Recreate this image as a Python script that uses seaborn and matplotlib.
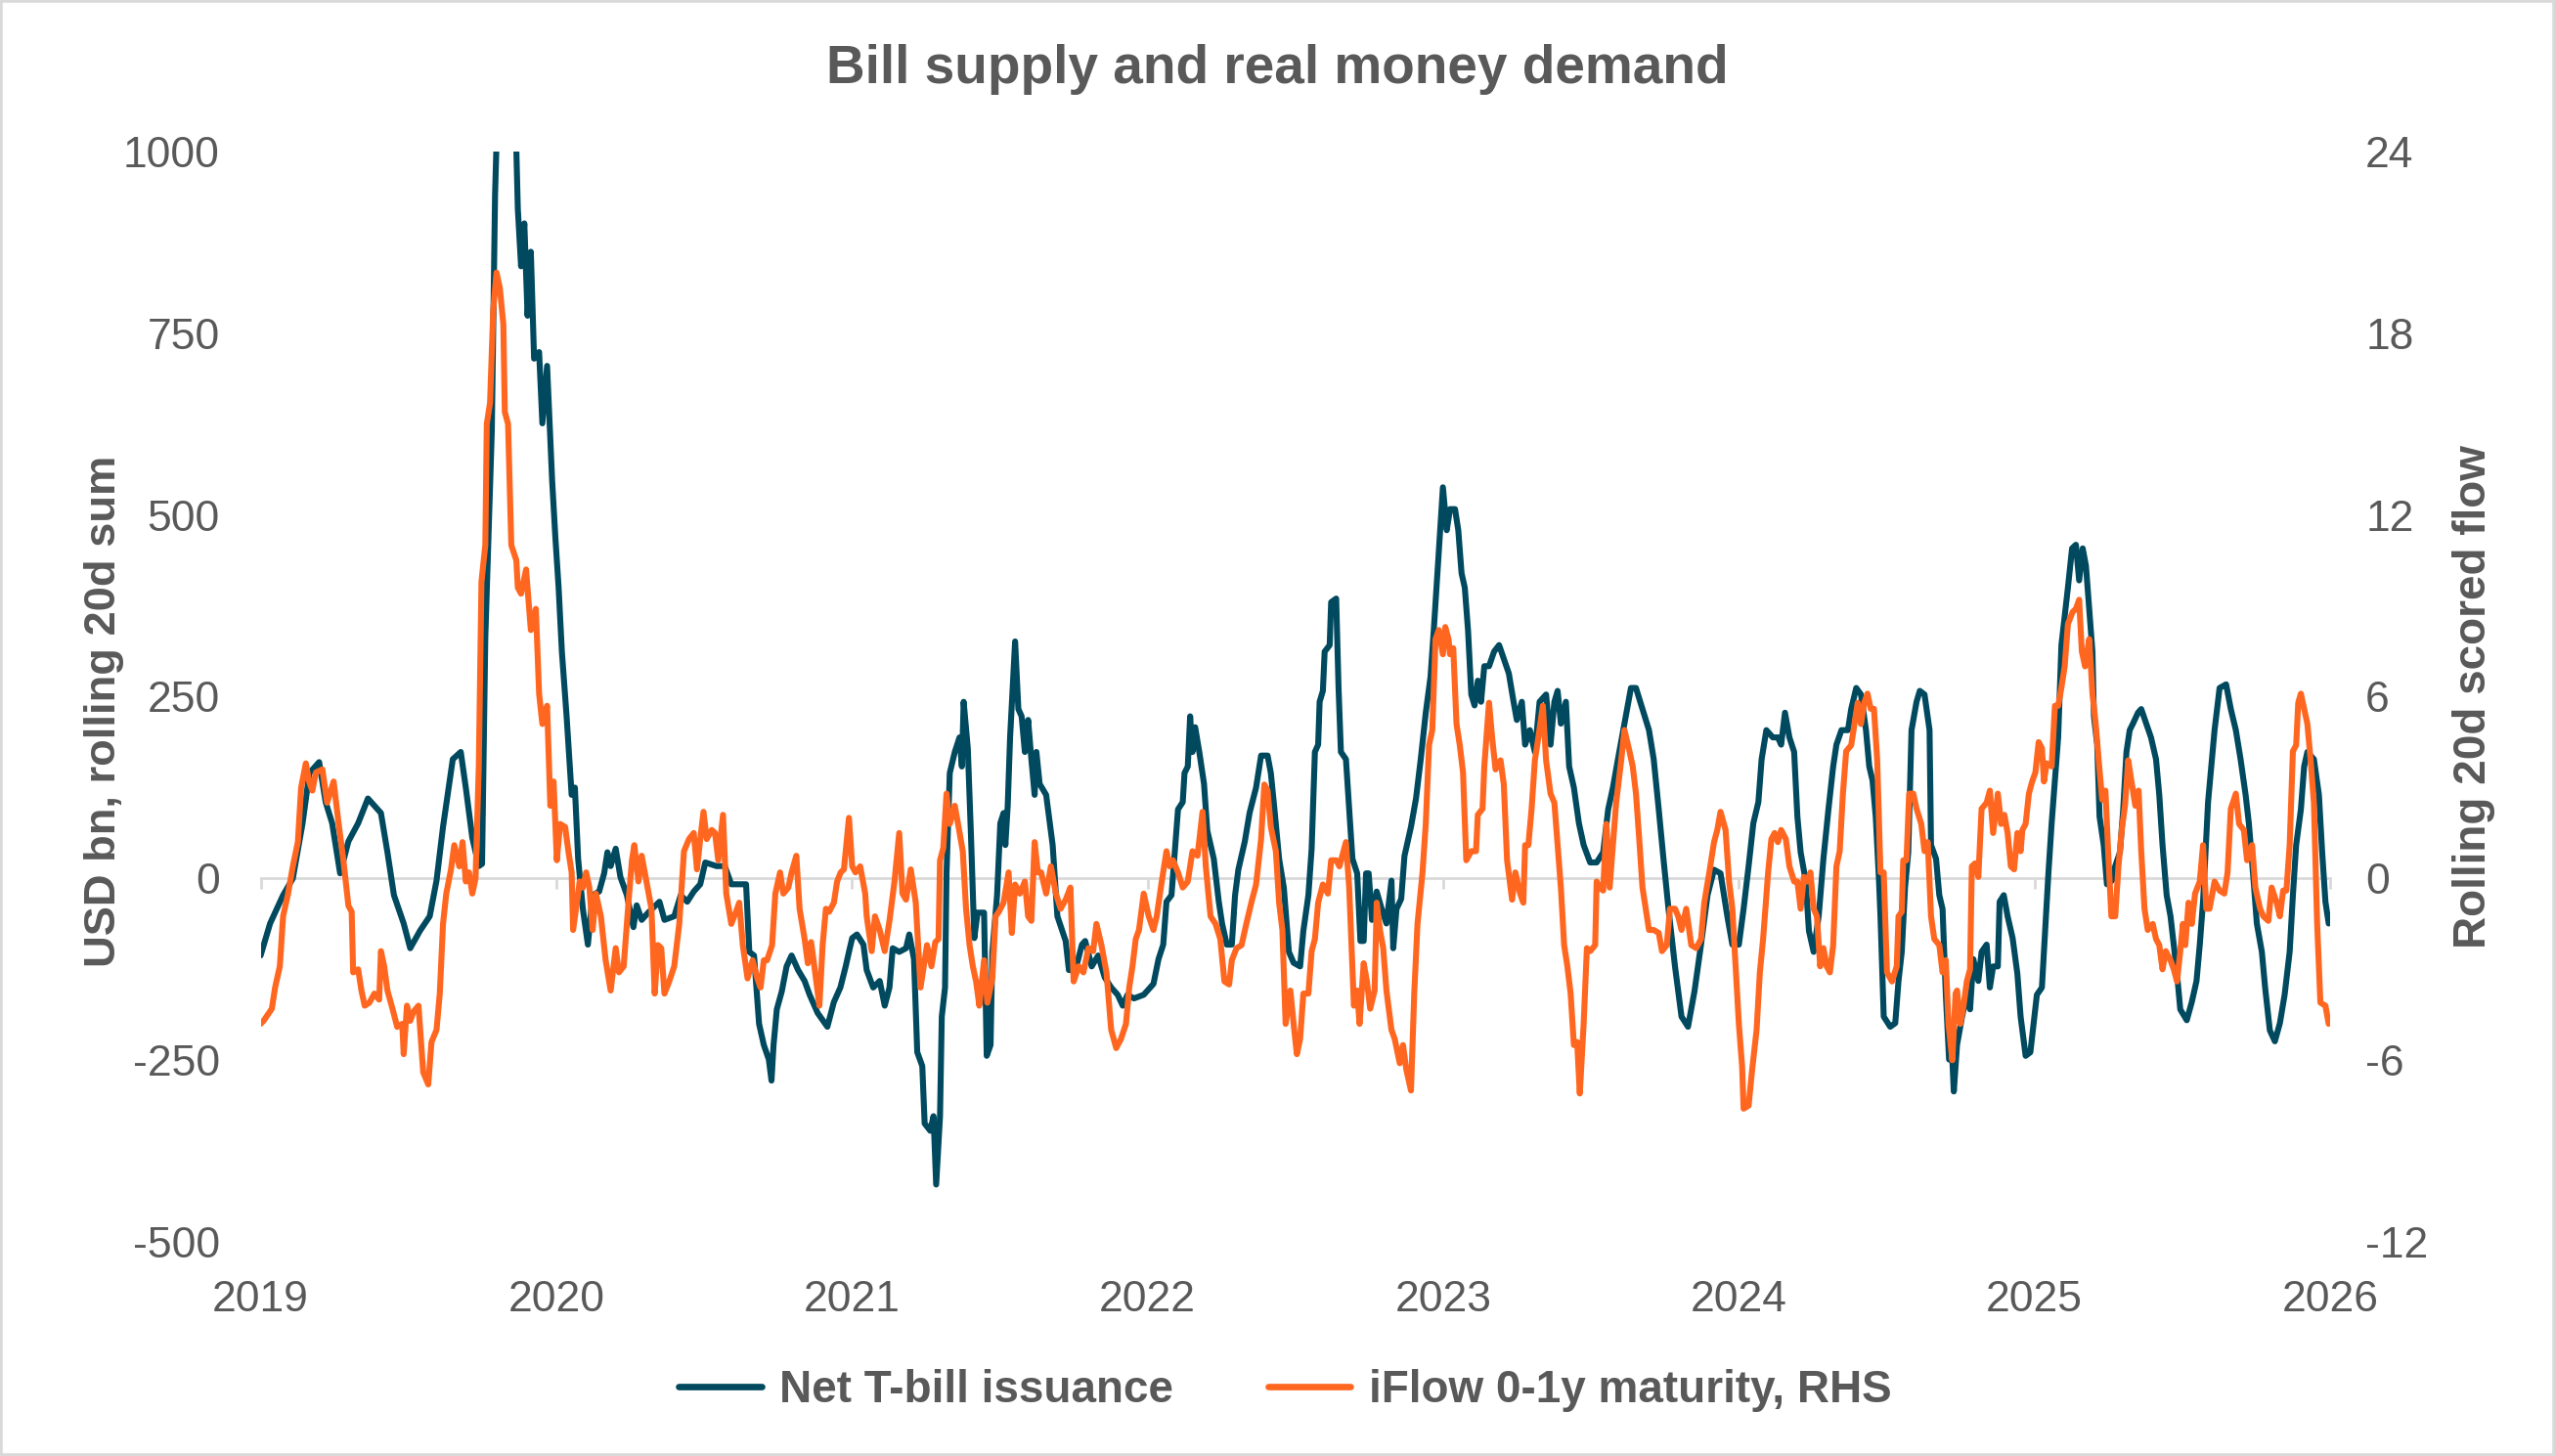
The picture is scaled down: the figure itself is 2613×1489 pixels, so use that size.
import matplotlib
matplotlib.use('Agg')
import matplotlib.pyplot as plt
import pandas as pd
import seaborn as sns

# values: (decimal year, value)
# Net T-bill issuance, USD bn rolling 20d sum (left axis)
bill_pts = [
    (2019.000, -106), (2019.032, -62), (2019.076, -23), (2019.109, 0), (2019.142, 76), (2019.165, 145),
    (2019.198, 160), (2019.220, 105), (2019.242, 76), (2019.269, 7), (2019.297, 51), (2019.330, 76),
    (2019.363, 110), (2019.407, 90), (2019.429, 36), (2019.451, -23), (2019.484, -62), (2019.506, -96),
    (2019.539, -72), (2019.572, -52), (2019.595, -3), (2019.617, 71), (2019.650, 164), (2019.677, 174),
    (2019.694, 125), (2019.716, 56), (2019.738, 17), (2019.749, 20), (2019.760, 331), (2019.782, 616),
    (2019.793, 940), (2019.804, 1100), (2019.859, 1100), (2019.870, 921), (2019.881, 842), (2019.892, 901),
    (2019.903, 774), (2019.914, 862), (2019.925, 715), (2019.942, 724), (2019.953, 626), (2019.969, 705),
    (2019.986, 548), (2019.997, 469), (2020.008, 400), (2020.019, 312), (2020.035, 223), (2020.052, 115),
    (2020.063, 125), (2020.074, 27), (2020.090, -42), (2020.107, -91), (2020.123, -23), (2020.145, -18),
    (2020.162, 7), (2020.173, 36), (2020.184, 17), (2020.201, 41), (2020.217, 2), (2020.239, -23),
    (2020.261, -67), (2020.272, -37), (2020.289, -57), (2020.311, -47), (2020.349, -32), (2020.366, -57),
    (2020.399, -52), (2020.421, -23), (2020.443, -32), (2020.465, -18), (2020.487, -8), (2020.504, 22),
    (2020.542, 17), (2020.570, 17), (2020.592, -8), (2020.642, -8), (2020.653, -101), (2020.669, -106),
    (2020.686, -200), (2020.702, -229), (2020.719, -249), (2020.728, -278), (2020.735, -229), (2020.746, -180),
    (2020.763, -155), (2020.779, -121), (2020.796, -106), (2020.818, -126), (2020.840, -141), (2020.857, -160),
    (2020.884, -185), (2020.917, -204), (2020.939, -170), (2020.961, -150), (2020.979, -121), (2020.990, -101),
    (2021.001, -82), (2021.017, -77), (2021.039, -91), (2021.050, -126), (2021.072, -150), (2021.094, -141),
    (2021.111, -175), (2021.127, -150), (2021.138, -96), (2021.160, -101), (2021.183, -96), (2021.194, -77),
    (2021.210, -111), (2021.221, -239), (2021.238, -258), (2021.246, -337), (2021.265, -347), (2021.276, -327),
    (2021.285, -421), (2021.298, -327), (2021.304, -190), (2021.315, -150), (2021.320, 7), (2021.331, 145),
    (2021.348, 174), (2021.364, 194), (2021.372, 154), (2021.378, 243), (2021.392, 179), (2021.403, 56),
    (2021.414, -82), (2021.425, -47), (2021.447, -47), (2021.456, -244), (2021.469, -229), (2021.475, -101),
    (2021.491, -23), (2021.502, 76), (2021.513, 90), (2021.519, 46), (2021.527, 100), (2021.535, 194),
    (2021.552, 326), (2021.563, 233), (2021.574, 223), (2021.585, 174), (2021.596, 218), (2021.607, 164),
    (2021.618, 115), (2021.624, 174), (2021.635, 130), (2021.657, 115), (2021.679, 46), (2021.695, -52),
    (2021.723, -86), (2021.734, -126), (2021.756, -126), (2021.778, -91), (2021.789, -86), (2021.811, -121),
    (2021.833, -106), (2021.855, -136), (2021.877, -150), (2021.899, -160), (2021.916, -175), (2021.932, -160),
    (2021.954, -165), (2021.987, -160), (2022.020, -145), (2022.037, -111), (2022.053, -91), (2022.064, -32),
    (2022.081, -23), (2022.092, 36), (2022.103, 95), (2022.119, 105), (2022.125, 145), (2022.136, 154),
    (2022.144, 223), (2022.152, 174), (2022.161, 208), (2022.175, 174), (2022.191, 130), (2022.202, 66),
    (2022.224, 27), (2022.241, -32), (2022.252, -62), (2022.268, -91), (2022.285, -91), (2022.296, -23),
    (2022.307, 12), (2022.329, 51), (2022.345, 90), (2022.367, 125), (2022.384, 169), (2022.406, 169),
    (2022.417, 145), (2022.428, 100), (2022.445, 27), (2022.461, -13), (2022.478, -101), (2022.494, -116),
    (2022.516, -121), (2022.527, -72), (2022.544, -23), (2022.555, 41), (2022.566, 174), (2022.577, 184),
    (2022.582, 243), (2022.593, 258), (2022.599, 312), (2022.616, 321), (2022.621, 380), (2022.638, 385),
    (2022.646, 262), (2022.654, 174), (2022.671, 164), (2022.682, 95), (2022.693, 27), (2022.709, 7),
    (2022.720, -86), (2022.731, -86), (2022.739, 7), (2022.748, 7), (2022.759, -57), (2022.775, -18),
    (2022.792, -42), (2022.808, -62), (2022.825, -3), (2022.831, -96), (2022.842, -42), (2022.858, -28),
    (2022.869, 31), (2022.891, 71), (2022.908, 110), (2022.924, 164), (2022.941, 228), (2022.957, 277),
    (2022.968, 341), (2022.985, 449), (2022.999, 538), (2023.012, 479), (2023.023, 508), (2023.040, 508),
    (2023.051, 479), (2023.062, 420), (2023.073, 400), (2023.084, 341), (2023.095, 253), (2023.106, 238),
    (2023.117, 272), (2023.128, 243), (2023.139, 292), (2023.155, 292), (2023.172, 312), (2023.189, 321),
    (2023.205, 302), (2023.222, 282), (2023.238, 243), (2023.249, 218), (2023.266, 243), (2023.277, 184),
    (2023.293, 204), (2023.310, 174), (2023.326, 243), (2023.348, 253), (2023.363, 184), (2023.376, 243),
    (2023.387, 258), (2023.398, 213), (2023.415, 243), (2023.426, 154), (2023.442, 125), (2023.459, 76),
    (2023.475, 46), (2023.497, 22), (2023.519, 22), (2023.541, 36), (2023.558, 95), (2023.574, 125),
    (2023.591, 164), (2023.613, 213), (2023.635, 262), (2023.652, 262), (2023.674, 233), (2023.696, 204),
    (2023.712, 164), (2023.729, 95), (2023.745, 27), (2023.762, -42), (2023.784, -121), (2023.806, -190),
    (2023.828, -204), (2023.850, -155), (2023.872, -91), (2023.894, -23), (2023.916, 12), (2023.938, 7),
    (2023.961, -52), (2023.978, -91), (2024.000, -91), (2024.016, -42), (2024.033, 17), (2024.049, 76),
    (2024.066, 105), (2024.077, 164), (2024.093, 204), (2024.115, 194), (2024.132, 194), (2024.143, 184),
    (2024.156, 228), (2024.171, 194), (2024.187, 174), (2024.198, 85), (2024.209, 36), (2024.226, -3),
    (2024.237, -72), (2024.253, -101), (2024.270, -52), (2024.286, 27), (2024.303, 95), (2024.319, 154),
    (2024.330, 184), (2024.347, 204), (2024.369, 204), (2024.380, 233), (2024.397, 262), (2024.413, 253),
    (2024.430, 204), (2024.441, 154), (2024.452, 135), (2024.463, 85), (2024.474, -3), (2024.479, -52),
    (2024.490, -190), (2024.512, -204), (2024.529, -199), (2024.540, -141), (2024.551, -101), (2024.562, -13),
    (2024.573, 36), (2024.584, 204), (2024.601, 243), (2024.612, 258), (2024.628, 253), (2024.645, 204),
    (2024.650, 46), (2024.667, 27), (2024.678, -23), (2024.689, -42), (2024.700, -160), (2024.711, -249),
    (2024.722, -249), (2024.727, -293), (2024.738, -229), (2024.755, -190), (2024.771, -160), (2024.782, -180),
    (2024.793, -111), (2024.810, -141), (2024.821, -101), (2024.838, -91), (2024.849, -150), (2024.860, -121),
    (2024.876, -121), (2024.882, -32), (2024.896, -23), (2024.909, -52), (2024.926, -82), (2024.942, -131),
    (2024.953, -190), (2024.970, -244), (2024.986, -239), (2024.997, -199), (2025.008, -160), (2025.025, -150),
    (2025.036, -72), (2025.047, 7), (2025.058, 76), (2025.069, 135), (2025.080, 194), (2025.091, 321),
    (2025.102, 361), (2025.113, 400), (2025.127, 454), (2025.140, 459), (2025.151, 410), (2025.163, 454),
    (2025.174, 430), (2025.185, 371), (2025.196, 312), (2025.201, 223), (2025.212, 184), (2025.220, 85),
    (2025.234, 46), (2025.245, -8), (2025.262, -3), (2025.273, 17), (2025.289, 36), (2025.300, 95),
    (2025.311, 174), (2025.322, 204), (2025.333, 213), (2025.350, 228), (2025.361, 233), (2025.378, 213),
    (2025.394, 194), (2025.411, 164), (2025.422, 115), (2025.433, 46), (2025.447, -23), (2025.460, -52),
    (2025.471, -91), (2025.482, -131), (2025.493, -180), (2025.515, -195), (2025.532, -170), (2025.548, -141),
    (2025.559, -91), (2025.570, -32), (2025.587, 105), (2025.598, 154), (2025.609, 204), (2025.626, 262),
    (2025.648, 267), (2025.664, 233), (2025.681, 204), (2025.697, 164), (2025.714, 115), (2025.725, 76),
    (2025.741, -3), (2025.752, -62), (2025.769, -101), (2025.780, -150), (2025.796, -209), (2025.813, -224),
    (2025.830, -199), (2025.846, -160), (2025.863, -101), (2025.874, -23), (2025.885, 46), (2025.901, 95),
    (2025.912, 154), (2025.923, 174), (2025.945, 164), (2025.962, 115), (2025.973, 36), (2025.984, -32),
    (2025.995, -62),
]

# iFlow 0-1y maturity, rolling 20d scored flow (right axis)
flow_pts = [
    (2019.000, -4.8), (2019.010, -4.7), (2019.038, -4.3), (2019.049, -3.6), (2019.065, -2.9), (2019.076, -1.25),
    (2019.093, -0.5), (2019.109, 0.4), (2019.126, 1.2), (2019.137, 3.0), (2019.153, 3.8), (2019.164, 3.2),
    (2019.175, 2.9), (2019.187, 3.5), (2019.209, 3.6), (2019.225, 2.5), (2019.247, 3.2), (2019.264, 1.8),
    (2019.280, 0.6), (2019.297, -0.9), (2019.308, -1.1), (2019.313, -3.1), (2019.330, -3.0), (2019.341, -3.7),
    (2019.352, -4.2), (2019.368, -4.1), (2019.385, -3.8), (2019.401, -4.0), (2019.407, -2.4), (2019.418, -2.9),
    (2019.429, -3.7), (2019.446, -4.3), (2019.462, -4.9), (2019.479, -4.8), (2019.484, -5.8), (2019.495, -4.2),
    (2019.506, -4.7), (2019.517, -4.4), (2019.534, -4.2), (2019.550, -6.4), (2019.567, -6.8), (2019.578, -5.4),
    (2019.595, -5.0), (2019.606, -3.8), (2019.617, -1.5), (2019.628, -0.5), (2019.644, 0.3), (2019.655, 1.1),
    (2019.672, 0.4), (2019.683, 1.2), (2019.694, -0.1), (2019.705, 0.2), (2019.716, -0.5), (2019.727, 0.0),
    (2019.738, 3.7), (2019.747, 9.8), (2019.760, 11.0), (2019.765, 15.0), (2019.776, 15.7), (2019.787, 18.8),
    (2019.798, 20.0), (2019.809, 19.5), (2019.821, 18.3), (2019.826, 15.4), (2019.837, 15.0), (2019.848, 11.0),
    (2019.865, 10.5), (2019.870, 9.6), (2019.881, 9.4), (2019.898, 10.2), (2019.914, 8.2), (2019.931, 8.9),
    (2019.942, 6.1), (2019.953, 5.1), (2019.969, 5.7), (2019.980, 2.4), (2019.991, 3.2), (2020.002, 0.6),
    (2020.013, 1.8), (2020.030, 1.7), (2020.041, 0.9), (2020.052, 0.2), (2020.057, -1.7), (2020.074, -0.5),
    (2020.079, -0.1), (2020.090, -0.3), (2020.101, 0.2), (2020.112, -0.3), (2020.123, -1.7), (2020.134, -0.5),
    (2020.151, -1.25), (2020.167, -2.7), (2020.184, -3.7), (2020.201, -2.3), (2020.212, -3.1), (2020.228, -2.9),
    (2020.245, -0.7), (2020.256, 0.6), (2020.264, 1.1), (2020.278, -0.1), (2020.289, 0.75), (2020.305, -0.1),
    (2020.322, -1.0), (2020.333, -3.8), (2020.344, -2.2), (2020.355, -2.3), (2020.366, -3.8), (2020.382, -3.4),
    (2020.399, -2.9), (2020.416, -1.5), (2020.432, 0.9), (2020.449, 1.3), (2020.465, 1.5), (2020.476, 0.3),
    (2020.487, 1.3), (2020.498, 2.2), (2020.509, 1.3), (2020.526, 1.6), (2020.537, 1.5), (2020.548, 0.6),
    (2020.564, 2.1), (2020.575, -0.5), (2020.592, -1.5), (2020.608, -1.1), (2020.619, -0.8), (2020.631, -2.2),
    (2020.647, -3.3), (2020.664, -2.7), (2020.680, -3.3), (2020.691, -3.6), (2020.702, -2.7), (2020.713, -2.7),
    (2020.730, -2.2), (2020.741, -0.5), (2020.757, 0.2), (2020.768, -0.5), (2020.785, -0.3), (2020.796, 0.2),
    (2020.812, 0.75), (2020.823, -1.0), (2020.840, -2.0), (2020.851, -2.8), (2020.862, -2.1), (2020.873, -2.9),
    (2020.890, -4.2), (2020.901, -2.2), (2020.912, -1.0), (2020.923, -1.1), (2020.939, -0.8), (2020.950, -0.1),
    (2020.962, 0.2), (2020.973, 0.3), (2020.990, 2.0), (2021.001, 0.4), (2021.012, 0.2), (2021.028, 0.4),
    (2021.045, -0.5), (2021.050, -1.25), (2021.067, -2.4), (2021.078, -1.25), (2021.094, -1.7), (2021.111, -2.4),
    (2021.127, -1.4), (2021.144, -0.1), (2021.160, 1.5), (2021.171, -0.5), (2021.183, -0.7), (2021.199, 0.3),
    (2021.216, -0.8), (2021.232, -3.6), (2021.243, -2.9), (2021.254, -2.2), (2021.269, -2.9), (2021.282, -2.1),
    (2021.293, -2.0), (2021.298, 0.6), (2021.309, 1.0), (2021.320, 2.8), (2021.331, 1.8), (2021.348, 2.4),
    (2021.359, 1.8), (2021.375, 0.9), (2021.386, -1.0), (2021.398, -2.2), (2021.409, -2.9), (2021.420, -3.4),
    (2021.431, -4.2), (2021.447, -2.7), (2021.458, -4.1), (2021.475, -3.3), (2021.486, -1.25), (2021.497, -1.1),
    (2021.513, -0.8), (2021.530, 0.2), (2021.541, -1.8), (2021.552, -0.2), (2021.568, -0.5), (2021.585, -0.1),
    (2021.596, -1.25), (2021.607, -1.4), (2021.618, 1.2), (2021.629, 0.2), (2021.640, 0.2), (2021.657, -0.5),
    (2021.673, 0.4), (2021.690, -0.5), (2021.706, -1.0), (2021.723, -0.7), (2021.739, -0.3), (2021.750, -3.4),
    (2021.767, -2.9), (2021.783, -3.1), (2021.800, -2.3), (2021.816, -2.4), (2021.827, -1.5), (2021.844, -2.2),
    (2021.861, -3.1), (2021.877, -5.0), (2021.894, -5.6), (2021.910, -5.3), (2021.927, -4.8), (2021.938, -3.6),
    (2021.949, -2.9), (2021.960, -2.0), (2021.971, -1.7), (2021.987, -0.5), (2022.004, -1.25), (2022.020, -1.7),
    (2022.031, -1.25), (2022.048, -0.1), (2022.064, 0.9), (2022.075, 0.4), (2022.086, 0.6), (2022.103, 0.2),
    (2022.119, -0.3), (2022.136, -0.1), (2022.152, 0.9), (2022.169, 0.75), (2022.186, 2.2), (2022.197, 0.4),
    (2022.213, -1.25), (2022.230, -1.5), (2022.246, -2.0), (2022.260, -3.4), (2022.276, -3.5), (2022.285, -2.7),
    (2022.301, -2.3), (2022.318, -2.2), (2022.334, -1.5), (2022.351, -0.8), (2022.367, -0.2), (2022.384, 1.3),
    (2022.395, 3.1), (2022.406, 2.9), (2022.417, 1.7), (2022.434, 0.9), (2022.445, -0.8), (2022.456, -1.7),
    (2022.467, -4.8), (2022.483, -3.7), (2022.494, -4.8), (2022.505, -5.8), (2022.516, -5.3), (2022.527, -3.8),
    (2022.544, -3.8), (2022.555, -2.4), (2022.566, -2.0), (2022.577, -0.8), (2022.593, -0.2), (2022.610, -0.5),
    (2022.621, 0.6), (2022.638, 0.6), (2022.649, 0.4), (2022.671, 1.2), (2022.682, -0.3), (2022.698, -4.2),
    (2022.709, -3.7), (2022.717, -4.8), (2022.731, -2.8), (2022.742, -3.4), (2022.753, -4.3), (2022.768, -3.7),
    (2022.775, -0.8), (2022.786, -1.7), (2022.797, -2.3), (2022.808, -3.7), (2022.825, -5.0), (2022.836, -5.3),
    (2022.853, -6.1), (2022.864, -5.5), (2022.875, -6.3), (2022.891, -7.0), (2022.902, -3.8), (2022.913, -1.5),
    (2022.930, 0.2), (2022.941, 1.8), (2022.952, 4.4), (2022.963, 4.9), (2022.974, 7.9), (2022.985, 8.2),
    (2022.999, 7.4), (2023.007, 8.3), (2023.018, 7.9), (2023.023, 7.4), (2023.034, 7.6), (2023.045, 5.1),
    (2023.056, 4.4), (2023.067, 3.5), (2023.078, 0.6), (2023.095, 0.9), (2023.111, 0.9), (2023.117, 2.1),
    (2023.133, 2.3), (2023.139, 3.7), (2023.155, 5.8), (2023.166, 4.6), (2023.177, 3.6), (2023.194, 3.9),
    (2023.205, 3.1), (2023.216, 0.6), (2023.233, -0.7), (2023.244, 0.2), (2023.260, -0.5), (2023.271, -0.8),
    (2023.277, 1.1), (2023.288, 1.1), (2023.299, 2.3), (2023.310, 3.9), (2023.321, 4.6), (2023.337, 5.7),
    (2023.348, 3.9), (2023.363, 2.8), (2023.376, 2.5), (2023.387, 1.1), (2023.398, -0.3), (2023.409, -2.2),
    (2023.420, -2.9), (2023.431, -3.8), (2023.442, -5.5), (2023.453, -5.4), (2023.462, -7.1), (2023.475, -4.8),
    (2023.486, -2.3), (2023.497, -2.4), (2023.514, -2.2), (2023.519, -0.1), (2023.530, -0.3), (2023.541, -0.4),
    (2023.552, 1.8), (2023.563, -0.3), (2023.574, 1.1), (2023.585, 2.5), (2023.602, 3.9), (2023.613, 4.9),
    (2023.630, 4.2), (2023.641, 3.7), (2023.652, 2.8), (2023.663, 1.3), (2023.674, -0.3), (2023.685, -1.0),
    (2023.696, -1.7), (2023.712, -1.7), (2023.729, -1.8), (2023.740, -2.4), (2023.756, -2.2), (2023.767, -1.0),
    (2023.784, -1.0), (2023.795, -1.25), (2023.806, -1.7), (2023.822, -1.0), (2023.839, -2.2), (2023.856, -2.3),
    (2023.872, -2.0), (2023.883, -0.8), (2023.900, 0.2), (2023.916, 1.2), (2023.927, 1.6), (2023.938, 2.2),
    (2023.955, 1.6), (2023.967, -0.1), (2023.978, -1.0), (2023.989, -2.9), (2024.000, -4.8), (2024.011, -6.2),
    (2024.016, -7.6), (2024.033, -7.5), (2024.044, -6.4), (2024.060, -5.0), (2024.071, -3.1), (2024.082, -2.0),
    (2024.099, 0.2), (2024.110, 1.3), (2024.121, 1.5), (2024.132, 1.2), (2024.143, 1.6), (2024.159, 1.3),
    (2024.171, 0.4), (2024.187, -0.1), (2024.198, -0.1), (2024.209, -1.0), (2024.220, 0.05), (2024.231, -0.1),
    (2024.242, 0.2), (2024.253, -1.0), (2024.264, -1.25), (2024.275, -2.9), (2024.286, -2.3), (2024.297, -2.9),
    (2024.308, -3.1), (2024.319, -2.2), (2024.330, 0.4), (2024.341, 0.9), (2024.352, 2.8), (2024.363, 4.2),
    (2024.380, 4.4), (2024.391, 5.1), (2024.402, 5.8), (2024.413, 5.1), (2024.424, 5.8), (2024.435, 6.1),
    (2024.446, 5.6), (2024.457, 5.6), (2024.468, 3.9), (2024.479, 0.2), (2024.490, 0.2), (2024.501, -3.1),
    (2024.518, -3.4), (2024.534, -2.9), (2024.540, -1.25), (2024.551, -1.1), (2024.556, 0.6), (2024.567, 0.6),
    (2024.576, 2.8), (2024.590, 2.8), (2024.601, 2.3), (2024.617, 1.8), (2024.628, 0.9), (2024.639, 1.2),
    (2024.650, -1.25), (2024.661, -2.0), (2024.678, -2.2), (2024.689, -3.1), (2024.700, -2.7), (2024.709, -4.8),
    (2024.722, -6.0), (2024.733, -3.8), (2024.738, -3.7), (2024.749, -4.8), (2024.760, -4.2), (2024.771, -3.4),
    (2024.782, -3.0), (2024.788, 0.4), (2024.799, 0.5), (2024.810, 0.05), (2024.821, 2.3), (2024.838, 2.5),
    (2024.849, 2.9), (2024.860, 1.5), (2024.876, 2.8), (2024.887, 1.8), (2024.898, 2.1), (2024.909, 1.5),
    (2024.920, 0.4), (2024.931, 0.3), (2024.942, 1.5), (2024.953, 0.9), (2024.959, 1.6), (2024.970, 1.8),
    (2024.981, 2.8), (2024.992, 3.2), (2025.003, 3.5), (2025.014, 4.5), (2025.025, 4.3), (2025.032, 3.2),
    (2025.041, 3.8), (2025.058, 3.7), (2025.069, 5.7), (2025.080, 5.7), (2025.091, 6.3), (2025.102, 7.0),
    (2025.113, 8.4), (2025.129, 8.8), (2025.140, 8.9), (2025.151, 9.2), (2025.160, 7.5), (2025.171, 7.0),
    (2025.185, 7.9), (2025.196, 6.1), (2025.207, 5.1), (2025.218, 3.8), (2025.229, 2.6), (2025.240, 2.9),
    (2025.249, 0.9), (2025.260, -1.25), (2025.273, -1.25), (2025.284, 0.4), (2025.295, 1.6), (2025.306, 2.4),
    (2025.317, 3.9), (2025.328, 3.2), (2025.341, 2.4), (2025.352, 2.9), (2025.361, 0.9), (2025.372, -1.0),
    (2025.383, -1.7), (2025.400, -1.5), (2025.411, -2.0), (2025.422, -2.2), (2025.433, -3.0), (2025.444, -2.4),
    (2025.460, -2.7), (2025.471, -3.0), (2025.482, -3.4), (2025.493, -2.4), (2025.502, -1.5), (2025.510, -2.2),
    (2025.521, -0.8), (2025.532, -1.5), (2025.543, -0.5), (2025.559, -0.1), (2025.570, 1.1), (2025.581, -1.0),
    (2025.592, -1.0), (2025.609, -0.1), (2025.626, -0.4), (2025.642, -0.5), (2025.653, 0.2), (2025.664, 2.3),
    (2025.681, 2.8), (2025.692, 1.8), (2025.708, 1.6), (2025.719, 0.6), (2025.736, 1.1), (2025.747, -0.3),
    (2025.763, -1.0), (2025.774, -1.25), (2025.791, -1.4), (2025.802, -0.3), (2025.819, -0.8), (2025.830, -1.25),
    (2025.841, -0.4), (2025.852, -0.4), (2025.863, 1.1), (2025.874, 4.2), (2025.885, 4.4), (2025.892, 5.8),
    (2025.901, 6.1), (2025.912, 5.6), (2025.923, 5.1), (2025.934, 3.9), (2025.945, 2.5), (2025.956, -1.5),
    (2025.967, -4.1), (2025.984, -4.2), (2025.995, -4.8),
]

years = list(range(2019, 2027))
left_ticks = [-500, -250, 0, 250, 500, 750, 1000]
right_ticks = [-12, -6, 0, 6, 12, 18, 24]

title = 'Bill supply and real money demand'
left_label = 'USD bn, rolling 20d sum'
right_label = 'Rolling 20d scored flow'
bill_name = 'Net T-bill issuance'
flow_name = 'iFlow 0-1y maturity, RHS'

navy = '#00495e'
orange = '#ff6720'
grey_txt = '#595959'
grey_line = '#d9d9d9'

bill = pd.DataFrame(bill_pts, columns=['year', 'value'])
flow = pd.DataFrame(flow_pts, columns=['year', 'value'])

sns.set_theme(style='white')
plt.rcParams['font.family'] = ['Liberation Sans', 'DejaVu Sans']
plt.rcParams['axes.unicode_minus'] = False

fig = plt.figure(figsize=(13.065, 7.445), dpi=200)
ax = fig.add_axes([0.102, 0.147, 0.810, 0.749])
ax2 = ax.twinx()

sns.lineplot(data=bill, x='year', y='value', ax=ax, color=navy, linewidth=2.2, legend=False)
sns.lineplot(data=flow, x='year', y='value', ax=ax2, color=orange, linewidth=2.2, legend=False)

ax.set_xlim(years[0], years[-1])
ax.set_ylim(left_ticks[0], left_ticks[-1])
ax2.set_ylim(right_ticks[0], right_ticks[-1])

ax.set_xticks(years)
ax.set_xticklabels([str(y) for y in years])
ax.set_yticks(left_ticks)
ax2.set_yticks(right_ticks)

ax.tick_params(axis='x', length=0, pad=14, labelsize=16, labelcolor=grey_txt)
ax.tick_params(axis='y', length=0, pad=15, labelsize=16, labelcolor=grey_txt)
ax2.tick_params(axis='y', length=0, pad=13, labelsize=16, labelcolor=grey_txt)

for a in (ax, ax2):
    for s in a.spines.values():
        s.set_visible(False)
    a.grid(False)

# zero line of the category axis with small year ticks
zero_frac = (0 - left_ticks[0]) / (left_ticks[-1] - left_ticks[0])
sec = ax.secondary_xaxis(zero_frac)
sec.set_xticks(years)
sec.tick_params(axis='x', length=4, width=1.0, color=grey_line, labelbottom=False, labeltop=False)
for s in sec.spines.values():
    s.set_color(grey_line)
    s.set_linewidth(1.0)

ax.set_xlabel('')
ax.set_ylabel(left_label, fontsize=16.3, fontweight='bold', color=grey_txt)
ax2.set_ylabel(right_label, fontsize=16.5, fontweight='bold', color=grey_txt)
ax.yaxis.set_label_coords(-0.066, 0.487)
ax2.yaxis.set_label_coords(1.059, 0.5)

fig.text(0.5, 0.952, title, ha='center', va='center', fontsize=19.8, fontweight='bold', color=grey_txt)

handles = [plt.Line2D([], [], color=navy, lw=2.4), plt.Line2D([], [], color=orange, lw=2.4)]
fig.legend(handles, [bill_name, flow_name], loc='center', bbox_to_anchor=(0.503, 0.045), ncol=2,
           frameon=False, prop={'size': 16.5, 'weight': 'bold'}, labelcolor=grey_txt,
           handlelength=1.85, handletextpad=0.4, columnspacing=2.1)

# thin grey frame round the whole picture
fig.add_artist(plt.Rectangle((0, 0), 1, 1, transform=fig.transFigure, fill=False,
                             edgecolor=grey_line, linewidth=2))

fig.savefig('out.png', dpi=200, facecolor='white')
